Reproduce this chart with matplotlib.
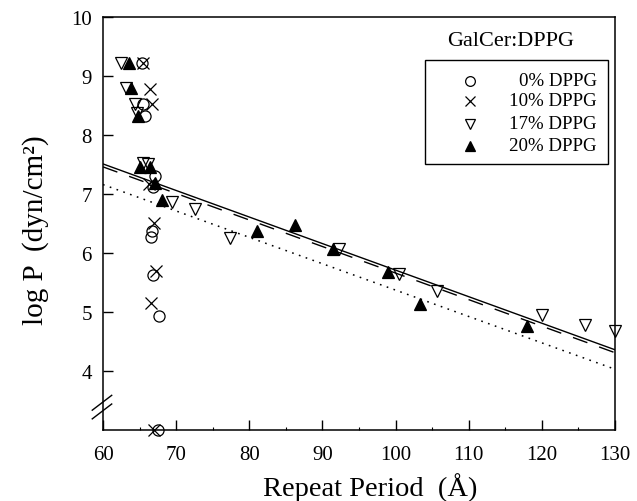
import numpy as np
import matplotlib.pyplot as plt
from matplotlib.patches import Rectangle
from matplotlib.ticker import MultipleLocator

plt.rcParams['font.family'] = ['Liberation Serif', 'DejaVu Serif']

# GalCer:DPPG osmotic stress data
x_0 = [65.3, 65.5, 65.7, 67.1, 66.9, 66.7, 66.6, 66.9, 67.6, 67.5]
y_0 = [9.22, 8.52, 8.33, 7.30, 7.12, 6.38, 6.27, 5.62, 4.94, 3.0]

x_10 = [65.4, 66.4, 66.7, 66.3, 67.0, 67.3, 66.6, 67.0]
y_10 = [9.22, 8.78, 8.53, 7.17, 6.51, 5.70, 5.16, 3.0]

x_17 = [62.5, 63.2, 64.4, 64.6, 65.4, 66.2, 69.4, 72.6, 77.4, 92.2,
        100.5, 105.6, 120.0, 125.9, 130.0]
y_17 = [9.22, 8.80, 8.53, 8.38, 7.52, 7.51, 6.87, 6.75, 6.25, 6.07,
        5.64, 5.35, 4.95, 4.78, 4.67]

x_20 = [63.5, 63.8, 64.8, 65.1, 66.4, 67.1, 68.0, 81.0, 86.2, 91.4,
        99.0, 103.4, 117.9]
y_20 = [9.22, 8.79, 8.32, 7.45, 7.45, 7.18, 6.90, 6.38, 6.47, 6.06,
        5.68, 5.14, 4.77]

# linear fits (end points)
fit_x = [60, 130]
fit_solid = [7.51, 4.36]
fit_dashed = [7.46, 4.31]
fit_dotted = [7.16, 4.03]

labels = ['0% DPPG', '10% DPPG', '17% DPPG', '20% DPPG']

fig = plt.figure(figsize=(6.37, 5.02), dpi=100)
ax = fig.add_axes([0.1617, 0.1414, 0.8038, 0.8227])

ax.plot(fit_x, fit_solid, color='k', lw=1.0)
ax.plot(fit_x, fit_dashed, color='k', lw=1.0, dashes=(11, 9))
ax.plot(fit_x, fit_dotted, color='k', lw=1.1, dashes=(1.1, 3.6))

ms = 8
ax.plot(x_0, y_0, 'o', ms=ms, mfc='none', mec='k', mew=0.9, clip_on=False)
ax.plot(x_10, y_10, 'x', ms=ms + 0.5, mec='k', mew=0.9, clip_on=False)
ax.plot(x_17, y_17, 'v', ms=ms + 0.5, mfc='none', mec='k', mew=0.9, clip_on=False)
ax.plot(x_20, y_20, '^', ms=ms + 0.5, mfc='k', mec='k', mew=0.9, clip_on=False)

ax.set_xlim(60, 130)
ax.set_ylim(3, 10)
ax.set_xticks(np.arange(60, 131, 10))
ax.xaxis.set_minor_locator(MultipleLocator(5))
ax.set_yticks(np.arange(4, 11, 1))
ax.tick_params(direction='in', length=7, width=1, labelsize=15)
ax.tick_params(axis='x', pad=11)
ax.tick_params(axis='y', pad=8)
ax.tick_params(which='minor', direction='in', length=2.5, width=0.8)
for s in ax.spines.values():
    s.set_linewidth(1.1)

ax.set_xlabel('Repeat Period  (\u00c5)', fontsize=20.5)
ax.set_ylabel('log P  (dyn/cm\u00b2)', fontsize=21)
ax.xaxis.set_label_coords(0.521, -0.103)
ax.yaxis.set_label_coords(-0.106, 0.487)

# axis break marks on the y axis
for dy in (0.0, 0.021):
    ax.plot([-0.021, 0.017], [0.027 + dy, 0.063 + dy], color='k', lw=1.0,
            transform=ax.transAxes, clip_on=False)

# legend drawn by hand so that labels are right aligned
ax.add_patch(Rectangle((0.629, 0.644), 0.357, 0.253, transform=ax.transAxes,
                       fill=False, ec='k', lw=1.0))
ax.text(0.797, 0.943, 'GalCer:DPPG', transform=ax.transAxes, ha='center',
        va='center', fontsize=16)
row_y = [0.846, 0.797, 0.741, 0.688]
styles = [dict(marker='o', mfc='none'), dict(marker='x'),
          dict(marker='v', mfc='none'), dict(marker='^', mfc='k')]
for yy, lab, st in zip(row_y, labels, styles):
    ax.plot([0.717], [yy], ls='none', ms=7, mec='k', mew=0.9,
            transform=ax.transAxes, **st)
    ax.text(0.964, yy, lab, transform=ax.transAxes, ha='right', va='center',
            fontsize=13.6)

fig.savefig('out.png', dpi=100)
